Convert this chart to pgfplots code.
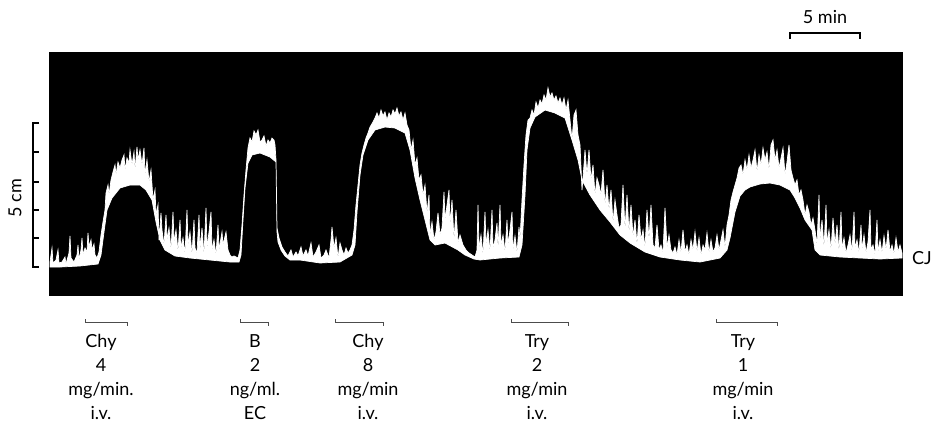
\documentclass[border=0pt]{standalone}
\usepackage{fontspec}
\setmainfont{Lato}
\usepackage{pgfplots}
\pgfplotsset{compat=1.18}

% kymograph trace, pixel coordinates (y measured downwards)
% upper edge of the white pen trace, then lower edge back to the start
\newcommand{\traceupper}{%
(50,262)(52,248)(53,263)(56,260)(58,250)(59,263)(62,262)(65,257)(66,264)(69,253)(70,236)(71,258)(74,262)(77,255)(78,245)(79,260)(81,250)(82,238)(83,255)(85,248)(87,252)(88,233)(89,247)(91,240)(92,250)(94,244)(95,255)(97,258)(99,252)
(101,235)(103,222)(105,210)(106,193)(108,185)(109,195)(111,180)(113,172)(115,165)(116,175)(118,162)(120,168)(122,160)(124,155)(125,170)(127,158)(129,163)(130,150)(132,165)(134,152)(135,170)(137,147)(138,160)(140,150)(142,165)(144,148)(145,175)(147,160)(149,182)(151,170)(153,200)(155,190)(156,215)(158,205)(159,240)(161,213)(162,230)(164,245)(166,215)(167,240)(169,228)(171,250)(173,212)(174,242)(176,230)(178,252)(180,220)(181,248)(183,238)(185,254)(187,210)(188,245)(190,232)(192,255)(194,220)(195,248)(197,253)(199,215)(200,250)(202,228)(204,255)(206,208)(207,248)(209,232)(211,212)(212,250)(214,240)(216,255)(218,225)(219,250)(222,232)(223,245)(226,232)(228,250)(230,255)(232,257)(234,256)(236,257)
(238,258)(240,250)(242,225)(244,195)(246,170)(248,148)(250,138)(252,142)(254,131)(256,135)(258,130)(260,142)(262,140)(264,136)(266,146)(268,140)(270,143)(272,138)(274,140)(275,145)(276,160)(277,228)(279,238)(282,247)(285,252)(288,256)(291,250)(293,257)(296,252)(298,256)(301,247)(303,256)(306,250)(308,256)(311,243)(313,257)(316,252)(319,245)(321,258)(324,255)(326,250)(329,258)(331,240)(332,227)(334,248)(336,238)(338,258)(340,243)(342,250)(344,255)(346,248)(348,253)(350,250)
(352,245)(354,230)(356,205)(358,185)(360,165)(362,153)(364,145)(366,138)(368,133)(370,127)(373,122)(375,118)(377,113)(379,118)(381,110)(383,116)(385,112)(387,120)(389,113)(391,117)(393,110)(395,114)(397,108)(399,116)(401,112)(403,120)(405,113)(407,125)(409,130)(411,150)(413,140)(415,165)(417,158)(419,180)(421,175)(423,195)(425,185)(427,213)(429,195)(430,235)(432,222)
(434,240)(436,232)(438,213)(440,235)(442,228)(444,192)(445,220)(447,205)(449,190)(450,225)(452,200)(454,240)(456,210)(458,243)(460,235)(463,245)(466,250)(469,253)(472,255)(475,257)(477,250)(478,205)(479,248)(481,235)(483,255)(485,212)(486,245)(488,230)(490,252)(492,210)(493,248)(495,240)(497,223)(498,250)(500,205)(501,245)(503,235)(505,252)(507,220)(508,245)(510,230)(512,212)(513,250)(515,236)(517,253)(519,227)
(520,240)(522,200)(524,165)(526,135)(528,120)(530,118)(532,110)(534,115)(536,102)(538,108)(540,100)(542,104)(544,95)(546,100)(548,88)(550,97)(552,93)(554,100)(556,96)(558,103)(560,98)(562,105)(564,98)(566,110)(568,100)(570,120)(572,140)(574,115)(576,110)(578,135)(580,145)(582,190)(584,165)(585,150)(587,175)(589,150)(591,180)(593,165)(595,195)(597,178)(599,185)(601,195)(603,170)(605,205)(607,185)(609,210)(611,190)(613,223)(615,200)(617,215)(619,228)
(621,225)(623,185)(625,230)(627,195)(629,233)(631,205)(633,237)(635,220)(637,245)(639,215)(641,240)(643,230)(645,248)(647,210)(649,240)(651,205)(653,245)(655,248)(657,225)(659,250)(661,245)(663,253)(665,208)(667,248)(669,235)(671,250)(673,253)(675,247)(677,255)(679,240)(681,253)(683,230)(685,252)(687,245)(689,255)(691,240)(693,250)(695,232)(697,252)(699,238)(701,255)(703,245)(705,250)(707,233)(709,253)(711,240)(713,252)(715,248)(717,235)(719,250)(721,240)(723,230)(725,248)
(727,225)(729,215)(731,200)(733,192)(735,185)(737,178)(739,168)(741,165)(743,175)(745,160)(747,170)(749,155)(751,168)(753,160)(755,150)(757,172)(759,155)(761,165)(763,148)(765,160)(767,152)(769,170)(771,145)(773,140)(775,160)(777,150)(779,168)(781,158)(783,148)(785,175)(787,162)(789,145)(791,170)(793,178)(795,185)(797,180)(799,195)(801,190)(803,200)(805,215)(807,205)(809,212)(811,225)(813,218)
(815,230)(817,245)(819,195)(820,240)(822,220)(824,248)(826,205)(827,243)(829,230)(831,250)(833,218)(835,245)(837,225)(839,252)(841,212)(842,248)(844,238)(846,253)(848,245)(850,235)(852,252)(854,212)(855,248)(857,240)(859,253)(861,225)(862,250)(864,235)(866,253)(868,242)(870,210)(871,250)(873,245)(875,255)(877,220)(878,252)(880,240)(882,253)(884,236)(886,250)(888,230)(890,252)(892,245)(894,254)(896,238)(898,252)(900,245)(902,253)}
\newcommand{\tracelower}{%
(902,258)(880,259)(860,258)(840,257)(820,255)(815,250)(812,230)(805,220)(800,208)(795,198)(790,190)(780,185)(770,183)(760,184)(750,187)(745,190)(740,196)(735,212)(730,238)(727,250)(720,258)(700,262)(680,260)(660,257)(645,252)(630,243)(620,235)(610,222)(600,210)(590,195)(582,180)(578,160)(572,140)(565,118)(555,113)(545,110)(535,117)(530,128)(527,150)(525,195)(522,245)(519,257)(500,258)(480,260)(474,259)(465,255)(458,250)(445,243)(435,245)(430,240)(425,220)(420,200)(415,178)(410,150)(405,133)(395,128)(385,127)(375,130)(368,140)(363,155)(360,175)(357,212)(355,245)(352,255)(340,262)(320,263)(300,260)(290,260)(285,256)(281,250)(278,242)(277,232)(276,162)(270,157)(260,153)(252,155)(248,163)(245,188)(243,220)(241,255)(239,262)(230,262)(210,260)(190,258)(175,256)(165,250)(160,240)(156,222)(152,200)(146,190)(140,185)(130,185)(120,188)(112,198)(107,210)(104,232)(101,255)(98,264)(80,266)(60,267)(50,267)}

\begin{document}
\begin{tikzpicture}
\begin{axis}[
  width=939pt, height=429pt, scale only axis,
  xmin=0, xmax=939, ymin=0, ymax=429,
  y dir=reverse, axis lines=none, clip=false,
]
  \tikzset{lbl/.style={font=\fontsize{18}{24}\selectfont}}
  \path (rel axis cs:0,0) rectangle (rel axis cs:1,1);
  % dark record
  \addplot[fill=black, draw=none] coordinates {(49,52)(903,52)(903,296)(49,296)} -- cycle;
  % pen trace
  \addplot[fill=white, draw=white, line width=0.7pt] coordinates {\traceupper \tracelower} -- cycle;

  % 5 cm scale
  \addplot[black, line width=1.8pt] coordinates {(39,123)(33,123)(33,267)(39,267)};
  \addplot[black, line width=1.4pt] coordinates {(33,152)(39,152)};
  \addplot[black, line width=1.4pt] coordinates {(33,182)(39,182)};
  \addplot[black, line width=1.4pt] coordinates {(33,210)(39,210)};
  \addplot[black, line width=1.4pt] coordinates {(33,238)(39,238)};
  \node[lbl, rotate=90] at (axis cs:15,198) {5 cm};

  % 5 min scale
  \addplot[black, line width=1.4pt] coordinates {(790,39)(790,33)(860,33)(860,39)};
  \node[lbl] at (axis cs:825,17) {5 min};

  \node[lbl] at (axis cs:922,258) {CJ};

  % infusion markers
  \addplot[black!70, line width=0.9pt] coordinates {(85,319)(85,322)(127,322)(127,326)};
  \addplot[black!70, line width=0.9pt] coordinates {(240,319)(240,322)(268,322)(268,326)};
  \addplot[black!70, line width=0.9pt] coordinates {(335,319)(335,322)(383,322)(383,326)};
  \addplot[black!70, line width=0.9pt] coordinates {(511,319)(511,322)(568,322)(568,326)};
  \addplot[black!70, line width=0.9pt] coordinates {(716,319)(716,322)(777,322)(777,326)};

  \node[lbl, align=center, inner sep=0pt, anchor=north] at (axis cs:101,334) {Chy\\4\\mg/min.\\i.v.};
  \node[lbl, align=center, inner sep=0pt, anchor=north] at (axis cs:255,334) {B\\2\\ng/ml.\\EC};
  \node[lbl, align=center, inner sep=0pt, anchor=north] at (axis cs:368,334) {Chy\\8\\mg/min\\i.v.};
  \node[lbl, align=center, inner sep=0pt, anchor=north] at (axis cs:537,334) {Try\\2\\mg/min\\i.v.};
  \node[lbl, align=center, inner sep=0pt, anchor=north] at (axis cs:743,334) {Try\\1\\mg/min\\i.v.};
\end{axis}
\end{tikzpicture}
\end{document}
